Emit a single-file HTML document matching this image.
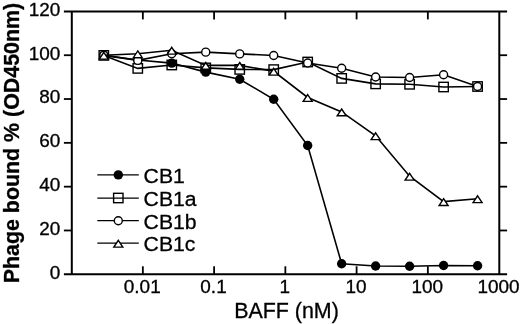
<!DOCTYPE html>
<html><head><meta charset="utf-8"><title>Phage bound vs BAFF</title>
<style>html,body{margin:0;padding:0;background:#fff;}svg{display:block;}text{font-family:"Liberation Sans",sans-serif;fill:#000;stroke:#000;stroke-width:0.3px;}</style>
</head><body>
<svg width="520" height="324" viewBox="0 0 520 324">
<rect width="520" height="324" fill="#fff"/>
<g stroke="#000" stroke-width="2.00" fill="none" stroke-linecap="butt">
<path d="M63.90 11.40 H507.10"/>
<path d="M63.90 274.30 H507.10"/>
<path d="M71.80 11.40 V274.30"/>
<path d="M499.30 11.40 V274.30"/>
</g>
<g stroke="#000" stroke-width="1.8" fill="none">
<path d="M63.90 230.48 H71.80"/>
<path d="M499.30 230.48 H507.10"/>
<path d="M63.90 186.67 H71.80"/>
<path d="M499.30 186.67 H507.10"/>
<path d="M63.90 142.85 H71.80"/>
<path d="M499.30 142.85 H507.10"/>
<path d="M63.90 99.03 H71.80"/>
<path d="M499.30 99.03 H507.10"/>
<path d="M63.90 55.22 H71.80"/>
<path d="M499.30 55.22 H507.10"/>
<path d="M142.85 274.30 V266.30"/>
<path d="M142.85 11.40 V19.40"/>
<path d="M214.10 274.30 V266.30"/>
<path d="M214.10 11.40 V19.40"/>
<path d="M285.35 274.30 V266.30"/>
<path d="M285.35 11.40 V19.40"/>
<path d="M356.60 274.30 V266.30"/>
<path d="M356.60 11.40 V19.40"/>
<path d="M427.85 274.30 V266.30"/>
<path d="M427.85 11.40 V19.40"/>
</g>
<text transform="translate(60.30,278.60) scale(1.030,1)" font-size="18.4" text-anchor="end">0</text>
<text transform="translate(60.30,234.78) scale(1.030,1)" font-size="18.4" text-anchor="end">20</text>
<text transform="translate(60.30,190.97) scale(1.030,1)" font-size="18.4" text-anchor="end">40</text>
<text transform="translate(60.30,147.15) scale(1.030,1)" font-size="18.4" text-anchor="end">60</text>
<text transform="translate(60.30,103.33) scale(1.030,1)" font-size="18.4" text-anchor="end">80</text>
<text transform="translate(60.30,59.52) scale(1.030,1)" font-size="18.4" text-anchor="end">100</text>
<text transform="translate(60.30,15.70) scale(1.030,1)" font-size="18.4" text-anchor="end">120</text>
<text transform="translate(142.25,293.30) scale(1.030,1)" font-size="18.4" text-anchor="middle">0.01</text>
<text transform="translate(213.50,293.30) scale(1.030,1)" font-size="18.4" text-anchor="middle">0.1</text>
<text transform="translate(284.75,293.30) scale(1.030,1)" font-size="18.4" text-anchor="middle">1</text>
<text transform="translate(356.00,293.30) scale(1.030,1)" font-size="18.4" text-anchor="middle">10</text>
<text transform="translate(427.25,293.30) scale(1.030,1)" font-size="18.4" text-anchor="middle">100</text>
<text transform="translate(498.50,293.30) scale(1.030,1)" font-size="18.4" text-anchor="middle">1000</text>
<text transform="translate(286.5,317.6) scale(1.005,1)" font-size="21.3" text-anchor="middle">BAFF (nM)</text>
<text transform="translate(19.0,283.3) rotate(-90)" font-size="21.4" font-weight="bold" text-anchor="start">Phage bound % (OD450nm)</text>
<polyline fill="none" stroke="#000" stroke-width="1.60" points="103.80,55.20 137.78,60.00 171.76,63.10 205.74,72.10 239.72,79.30 273.70,99.25 307.68,145.50 341.66,263.75 375.64,266.00 409.62,266.25 443.60,265.50 477.58,265.75"/>
<circle cx="103.80" cy="55.20" r="4.70" fill="#000"/>
<circle cx="137.78" cy="60.00" r="4.70" fill="#000"/>
<circle cx="171.76" cy="63.10" r="4.70" fill="#000"/>
<circle cx="205.74" cy="72.10" r="4.70" fill="#000"/>
<circle cx="239.72" cy="79.30" r="4.70" fill="#000"/>
<circle cx="273.70" cy="99.25" r="4.70" fill="#000"/>
<circle cx="307.68" cy="145.50" r="4.70" fill="#000"/>
<circle cx="341.66" cy="263.75" r="4.70" fill="#000"/>
<circle cx="375.64" cy="266.00" r="4.70" fill="#000"/>
<circle cx="409.62" cy="266.25" r="4.70" fill="#000"/>
<circle cx="443.60" cy="265.50" r="4.70" fill="#000"/>
<circle cx="477.58" cy="265.75" r="4.70" fill="#000"/>
<polyline fill="none" stroke="#000" stroke-width="1.60" points="103.80,55.40 137.78,68.40 171.76,65.00 205.74,67.90 239.72,69.40 273.70,69.60 307.68,62.00 341.66,78.40 375.64,83.90 409.62,84.30 443.60,87.00 477.58,86.50"/>
<rect x="99.10" y="50.70" width="9.40" height="9.40" fill="none" stroke="#000" stroke-width="1.40"/>
<rect x="133.08" y="63.70" width="9.40" height="9.40" fill="none" stroke="#000" stroke-width="1.40"/>
<rect x="167.06" y="60.30" width="9.40" height="9.40" fill="none" stroke="#000" stroke-width="1.40"/>
<rect x="201.04" y="63.20" width="9.40" height="9.40" fill="none" stroke="#000" stroke-width="1.40"/>
<rect x="235.02" y="64.70" width="9.40" height="9.40" fill="none" stroke="#000" stroke-width="1.40"/>
<rect x="269.00" y="64.90" width="9.40" height="9.40" fill="none" stroke="#000" stroke-width="1.40"/>
<rect x="302.98" y="57.30" width="9.40" height="9.40" fill="none" stroke="#000" stroke-width="1.40"/>
<rect x="336.96" y="73.70" width="9.40" height="9.40" fill="none" stroke="#000" stroke-width="1.40"/>
<rect x="370.94" y="79.20" width="9.40" height="9.40" fill="none" stroke="#000" stroke-width="1.40"/>
<rect x="404.92" y="79.60" width="9.40" height="9.40" fill="none" stroke="#000" stroke-width="1.40"/>
<rect x="438.90" y="82.30" width="9.40" height="9.40" fill="none" stroke="#000" stroke-width="1.40"/>
<rect x="472.88" y="81.80" width="9.40" height="9.40" fill="none" stroke="#000" stroke-width="1.40"/>
<polyline fill="none" stroke="#000" stroke-width="1.60" points="103.80,55.40 137.78,60.40 171.76,53.70 205.74,52.15 239.72,53.90 273.70,55.50 307.68,63.00 341.66,68.25 375.64,77.00 409.62,77.50 443.60,74.80 477.58,86.50"/>
<circle cx="103.80" cy="55.40" r="4.00" fill="#fff" stroke="#000" stroke-width="1.40"/>
<circle cx="137.78" cy="60.40" r="4.00" fill="#fff" stroke="#000" stroke-width="1.40"/>
<circle cx="171.76" cy="53.70" r="4.00" fill="#fff" stroke="#000" stroke-width="1.40"/>
<circle cx="205.74" cy="52.15" r="4.00" fill="#fff" stroke="#000" stroke-width="1.40"/>
<circle cx="239.72" cy="53.90" r="4.00" fill="#fff" stroke="#000" stroke-width="1.40"/>
<circle cx="273.70" cy="55.50" r="4.00" fill="#fff" stroke="#000" stroke-width="1.40"/>
<circle cx="307.68" cy="63.00" r="4.00" fill="#fff" stroke="#000" stroke-width="1.40"/>
<circle cx="341.66" cy="68.25" r="4.00" fill="#fff" stroke="#000" stroke-width="1.40"/>
<circle cx="375.64" cy="77.00" r="4.00" fill="#fff" stroke="#000" stroke-width="1.40"/>
<circle cx="409.62" cy="77.50" r="4.00" fill="#fff" stroke="#000" stroke-width="1.40"/>
<circle cx="443.60" cy="74.80" r="4.00" fill="#fff" stroke="#000" stroke-width="1.40"/>
<circle cx="477.58" cy="86.50" r="4.00" fill="#fff" stroke="#000" stroke-width="1.40"/>
<polyline fill="none" stroke="#000" stroke-width="1.60" points="103.80,55.25 137.78,53.80 171.76,50.20 205.74,65.40 239.72,65.40 273.70,71.25 307.68,97.50 341.66,111.90 375.64,135.75 409.62,176.25 443.60,201.60 477.58,198.75"/>
<polygon points="103.80,52.35 108.30,59.15 99.30,59.15" fill="#fff" stroke="#000" stroke-width="1.40" stroke-linejoin="miter"/>
<polygon points="137.78,50.90 142.28,57.70 133.28,57.70" fill="#fff" stroke="#000" stroke-width="1.40" stroke-linejoin="miter"/>
<polygon points="171.76,47.30 176.26,54.10 167.26,54.10" fill="#fff" stroke="#000" stroke-width="1.40" stroke-linejoin="miter"/>
<polygon points="205.74,62.50 210.24,69.30 201.24,69.30" fill="#fff" stroke="#000" stroke-width="1.40" stroke-linejoin="miter"/>
<polygon points="239.72,62.50 244.22,69.30 235.22,69.30" fill="#fff" stroke="#000" stroke-width="1.40" stroke-linejoin="miter"/>
<polygon points="273.70,68.35 278.20,75.15 269.20,75.15" fill="#fff" stroke="#000" stroke-width="1.40" stroke-linejoin="miter"/>
<polygon points="307.68,94.60 312.18,101.40 303.18,101.40" fill="#fff" stroke="#000" stroke-width="1.40" stroke-linejoin="miter"/>
<polygon points="341.66,109.00 346.16,115.80 337.16,115.80" fill="#fff" stroke="#000" stroke-width="1.40" stroke-linejoin="miter"/>
<polygon points="375.64,132.85 380.14,139.65 371.14,139.65" fill="#fff" stroke="#000" stroke-width="1.40" stroke-linejoin="miter"/>
<polygon points="409.62,173.35 414.12,180.15 405.12,180.15" fill="#fff" stroke="#000" stroke-width="1.40" stroke-linejoin="miter"/>
<polygon points="443.60,198.70 448.10,205.50 439.10,205.50" fill="#fff" stroke="#000" stroke-width="1.40" stroke-linejoin="miter"/>
<polygon points="477.58,195.85 482.08,202.65 473.08,202.65" fill="#fff" stroke="#000" stroke-width="1.40" stroke-linejoin="miter"/>
<path d="M97.30 174.90 H138.80" stroke="#000" stroke-width="1.25" fill="none"/>
<circle cx="118.30" cy="174.90" r="4.70" fill="#000"/>
<text transform="translate(143.60,183.10) scale(1.01,1)" font-size="21">CB1</text>
<path d="M97.30 198.00 H138.80" stroke="#000" stroke-width="1.25" fill="none"/>
<rect x="113.60" y="193.30" width="9.40" height="9.40" fill="none" stroke="#000" stroke-width="1.40"/>
<text transform="translate(143.60,206.20) scale(1.01,1)" font-size="21">CB1a</text>
<path d="M97.30 220.70 H138.80" stroke="#000" stroke-width="1.25" fill="none"/>
<circle cx="118.30" cy="220.70" r="4.00" fill="#fff" stroke="#000" stroke-width="1.40"/>
<text transform="translate(143.60,228.90) scale(1.01,1)" font-size="21">CB1b</text>
<path d="M97.30 243.20 H138.80" stroke="#000" stroke-width="1.25" fill="none"/>
<polygon points="118.30,240.30 122.80,247.10 113.80,247.10" fill="#fff" stroke="#000" stroke-width="1.40" stroke-linejoin="miter"/>
<text transform="translate(143.60,251.40) scale(1.01,1)" font-size="21">CB1c</text>
</svg>
</body></html>
